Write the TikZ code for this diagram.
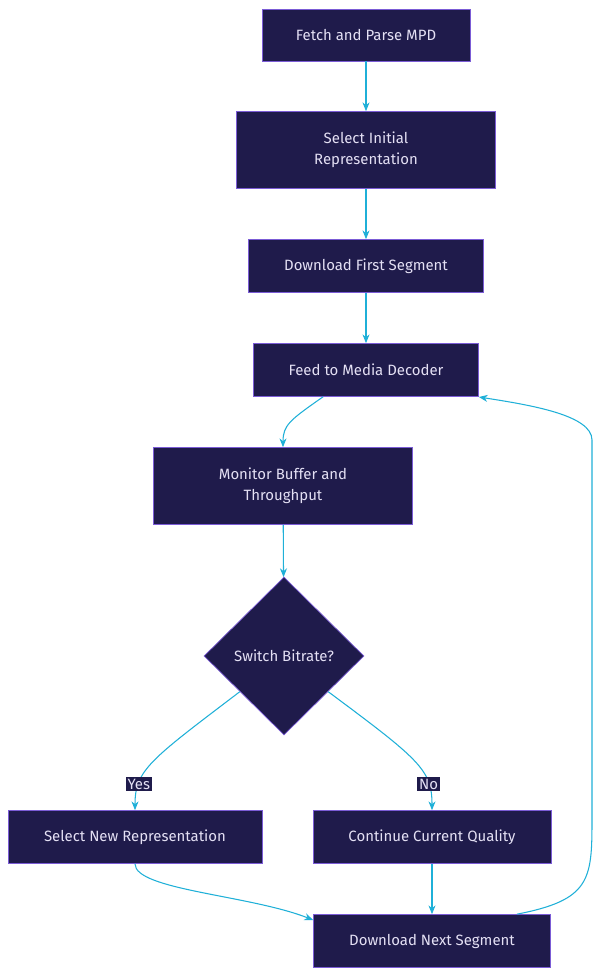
\documentclass[tikz,border=0pt]{standalone}
\usepackage{fontspec}
\setmainfont{Fira Sans}
\usetikzlibrary{shapes.geometric,arrows.meta,positioning}
\definecolor{boxfill}{HTML}{1F1B4B}
\definecolor{boxline}{HTML}{7B5CD6}
\definecolor{flow}{HTML}{1FB0D8}
\definecolor{boxtext}{HTML}{E4E0F4}
\newlength{\pxu}
\setlength{\pxu}{0.02cm}
\tikzset{
  box/.style={draw=boxline,fill=boxfill,text=boxtext,font=\fontsize{8.5}{12}\selectfont,align=center,inner sep=0pt},
  choice/.style={diamond,draw=boxline,fill=boxfill,text=boxtext,font=\fontsize{8.5}{12}\selectfont,minimum width=160\pxu,minimum height=158\pxu,inner sep=0pt},
  link/.style={draw=flow,semithick,-{Stealth[length=5pt,width=4pt]}},
  tag/.style={fill=boxfill,text=boxtext,font=\fontsize{8.5}{10}\selectfont,inner sep=1pt}
}
\begin{document}
\begin{tikzpicture}[x=0.02cm,y=-0.02cm]
\useasboundingbox[fill=white] (0,0) rectangle (600,977);
\node[box,minimum width=208\pxu,minimum height=52\pxu] (fetch) at (366,35) {Fetch and Parse MPD};
\node[box,minimum width=259\pxu,minimum height=77\pxu] (initial) at (366,150) {Select Initial\\Representation};
\node[box,minimum width=235\pxu,minimum height=53\pxu] (first) at (366,266) {Download First Segment};
\node[box,minimum width=225\pxu,minimum height=53\pxu] (feed) at (366,370) {Feed to Media Decoder};
\node[box,minimum width=259\pxu,minimum height=77\pxu] (monitor) at (283,486) {Monitor Buffer and\\Throughput};
\node[choice] (switch) at (284,656) {Switch Bitrate?};
\node[box,minimum width=254\pxu,minimum height=53\pxu] (newrep) at (135,837) {Select New Representation};
\node[box,minimum width=238\pxu,minimum height=53\pxu] (keep) at (432,837) {Continue Current Quality};
\node[box,minimum width=237\pxu,minimum height=53\pxu] (next) at (432,941) {Download Next Segment};
% main chain
\draw[link] (fetch) -- (initial);
\draw[link] (initial) -- (first);
\draw[link] (first) -- (feed);
\draw[link] (feed.south) ++(-43,0) .. controls (290,420) and (283,425) .. (monitor.north);
\draw[link] (monitor) -- (switch);
% decision
\draw[link] (switch.south west) ++(-4,-4) .. controls (150,760) and (135,770) .. node[tag,pos=0.75]{Yes} (newrep.north);
\draw[link] (switch.south east) ++(4,-4) .. controls (420,760) and (432,770) .. node[tag,pos=0.75]{No} (keep.north);
\draw[link] (newrep.south) .. controls (135,890) and (250,895) .. (next.west |- 0,920);
\draw[link] (keep) -- (next);
% loop back
\draw[link] (next.north) ++(85,0) .. controls (590,900) and (592,880) .. (592,820) -- (592,440) .. controls (592,415) and (530,405) .. (feed.east |- 0,397);
\end{tikzpicture}
\end{document}
